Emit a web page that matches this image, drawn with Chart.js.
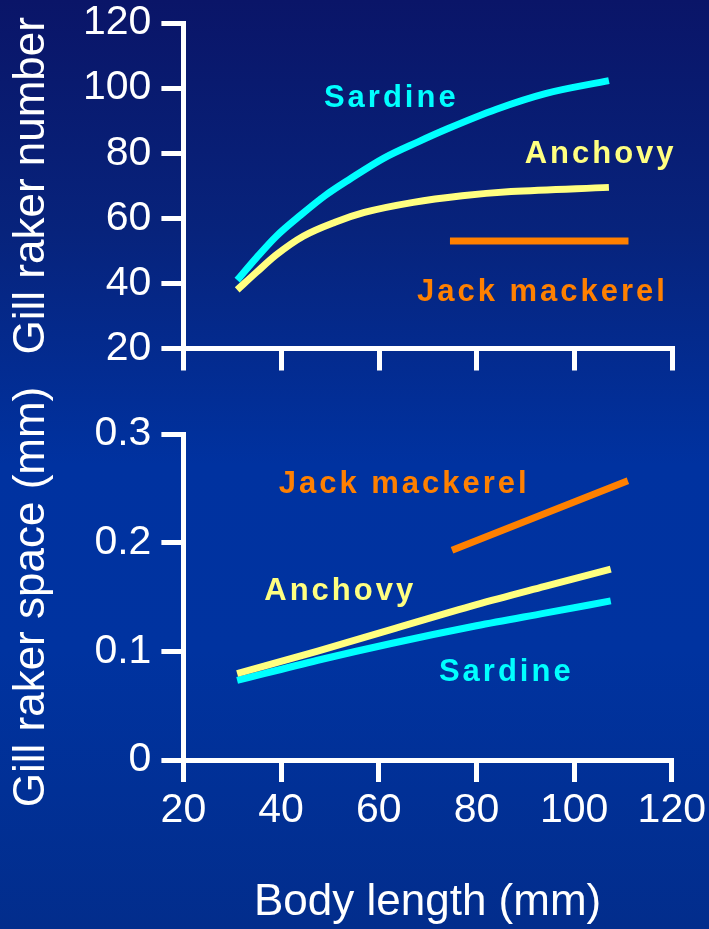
<!DOCTYPE html>
<html>
<head>
<meta charset="utf-8">
<script src="https://cdn.jsdelivr.net/npm/chart.js@4.4.1/dist/chart.umd.min.js"></script>
<style>
  html, body { margin: 0; padding: 0; }
  body {
    width: 709px; height: 929px; position: relative; overflow: hidden;
    background: linear-gradient(to bottom, #0a1568 0%, #07237c 25%, #0032a0 50%, #0033a0 70%, #022d8c 100%);
  }
  .box { position: absolute; left: 0; }
  #topBox { top: -8px; width: 709px; height: 388px; }
  #bottomBox { top: 380px; width: 714px; height: 549px; }
</style>
</head>
<body>
<div class="box" id="topBox"><canvas id="rakerNumber" width="709" height="388"></canvas></div>
<div class="box" id="bottomBox"><canvas id="rakerSpace" width="714" height="549"></canvas></div>
<script>
// body length (mm) and values
const sardineLen = [31, 35, 39, 44, 49, 54, 61, 68, 74, 84, 94, 107];
const sardineRakerNum = [41, 48, 54.5, 61, 67, 72, 78.5, 83.5, 87.5, 93.5, 98.3, 102.3];
const anchovyLen = [31, 35, 39, 44.5, 51, 57, 67, 77, 87, 107];
const anchovyRakerNum = [38, 43.5, 48.8, 54.5, 58.8, 61.8, 64.9, 66.9, 68.2, 69.5];
const jackLen = [74.5, 111];
const jackRakerNum = [53, 53];

const spaceLen = [31, 47.5, 62.3, 80, 94, 107.5];
const anchovySpace = [0.0796, 0.1003, 0.1198, 0.1430, 0.1598, 0.1757];
const sardineSpace = [0.0732, 0.0918, 0.1070, 0.1235, 0.1352, 0.1464];
const jackSpaceLen = [75, 111];
const jackSpace = [0.193, 0.257];

const xTicks = [20, 40, 60, 80, 100, 120];
const numTicks = [20, 40, 60, 80, 100, 120];
const spaceTicks = ['0', '0.1', '0.2', '0.3'];

// series label anchors (data units)
const topLabels = [
  { text: 'Sardine', x: 62.2, y: 94.1, color: '#00ffff' },
  { text: 'Anchovy', x: 105, y: 76.9, color: '#ffff80' },
  { text: 'Jack mackerel', x: 93.1, y: 34.7, color: '#ff8000' }
];
const bottomLabels = [
  { text: 'Jack mackerel', x: 64.9, y: 0.2455, color: '#ff8000' },
  { text: 'Anchovy', x: 51.8, y: 0.1468, color: '#ffff80' },
  { text: 'Sardine', x: 85.8, y: 0.0726, color: '#00ffff' }
];

Chart.defaults.font.family = '"Liberation Sans", Arial, sans-serif';
Chart.defaults.color = '#ffffff';

const pts = (xs, ys) => xs.map((x, i) => ({ x, y: ys[i] }));

function line(data, color) {
  return {
    data, borderColor: color, borderWidth: 7, pointRadius: 0,
    cubicInterpolationMode: 'monotone', fill: false, borderCapStyle: 'butt'
  };
}

const labelPlugin = {
  id: 'seriesLabels',
  afterDatasetsDraw(chart, args, opts) {
    const { ctx, scales: { x, y } } = chart;
    ctx.save();
    ctx.font = 'bold 31px "Liberation Sans", Arial, sans-serif';
    ctx.letterSpacing = '3px';
    ctx.textAlign = 'center';
    ctx.textBaseline = 'alphabetic';
    opts.items.forEach(it => {
      ctx.fillStyle = it.color;
      ctx.fillText(it.text, x.getPixelForValue(it.x) + 1.5, y.getPixelForValue(it.y));
    });
    ctx.restore();
  }
};

const grid = { drawOnChartArea: false, color: '#ffffff', lineWidth: 5, tickLength: 22, tickWidth: 5 };
const border = { display: true, color: '#ffffff', width: 5 };
const tickFont = { size: 41, lineHeight: 1 };
const titleFont = { size: 44 };

new Chart(document.getElementById('rakerNumber'), {
  type: 'line',
  data: {
    datasets: [
      line(pts(sardineLen, sardineRakerNum), '#00ffff'),
      line(pts(anchovyLen, anchovyRakerNum), '#ffff80'),
      line(pts(jackLen, jackRakerNum), '#ff8000')
    ]
  },
  options: {
    responsive: false, animation: false,
    layout: { padding: { top: 31, right: 36.5, left: 0, bottom: 0 } },
    plugins: { legend: { display: false }, tooltip: { enabled: false }, seriesLabels: { items: topLabels } },
    scales: {
      x: {
        type: 'linear', min: 20, max: 120,
        afterBuildTicks: s => { s.ticks = xTicks.map(v => ({ value: v })); },
        ticks: { display: false },
        grid, border,
        afterFit: s => { s.height = 31.5; }
      },
      y: {
        min: 20, max: 120,
        afterBuildTicks: s => { s.ticks = numTicks.map(v => ({ value: v })); },
        ticks: { font: tickFont, padding: 10, color: '#fff' },
        grid, border,
        title: { display: true, text: 'Gill raker number', font: titleFont, color: '#fff', padding: { top: 5, bottom: 0 } },
        afterFit: s => { s.width = 183.4; }
      }
    }
  },
  plugins: [labelPlugin]
});

new Chart(document.getElementById('rakerSpace'), {
  type: 'line',
  data: {
    datasets: [
      line(pts(jackSpaceLen, jackSpace), '#ff8000'),
      line(pts(spaceLen, anchovySpace), '#ffff80'),
      line(pts(spaceLen, sardineSpace), '#00ffff')
    ]
  },
  options: {
    responsive: false, animation: false,
    layout: { padding: { top: 54, right: 36.5, left: 0, bottom: 0 } },
    plugins: { legend: { display: false }, tooltip: { enabled: false }, seriesLabels: { items: bottomLabels } },
    scales: {
      x: {
        type: 'linear', min: 20, max: 120,
        afterBuildTicks: s => { s.ticks = xTicks.map(v => ({ value: v })); },
        ticks: { font: tickFont, padding: 8, color: '#fff' },
        grid, border,
        title: { display: true, text: 'Body length (mm)', font: titleFont, color: '#fff', padding: { top: 0, bottom: 0 } },
        afterFit: s => { s.height = 169; }
      },
      y: {
        min: 0, max: 0.3,
        afterBuildTicks: s => { s.ticks = spaceTicks.map(v => ({ value: parseFloat(v) })); },
        ticks: { font: tickFont, padding: 10, color: '#fff', callback: (v, i) => spaceTicks[i] },
        grid, border,
        title: { display: true, text: 'Gill raker space (mm)', font: titleFont, color: '#fff', padding: { top: 5, bottom: 0 } },
        afterFit: s => { s.width = 183.4; }
      }
    }
  },
  plugins: [labelPlugin]
});
</script>
</body>
</html>
